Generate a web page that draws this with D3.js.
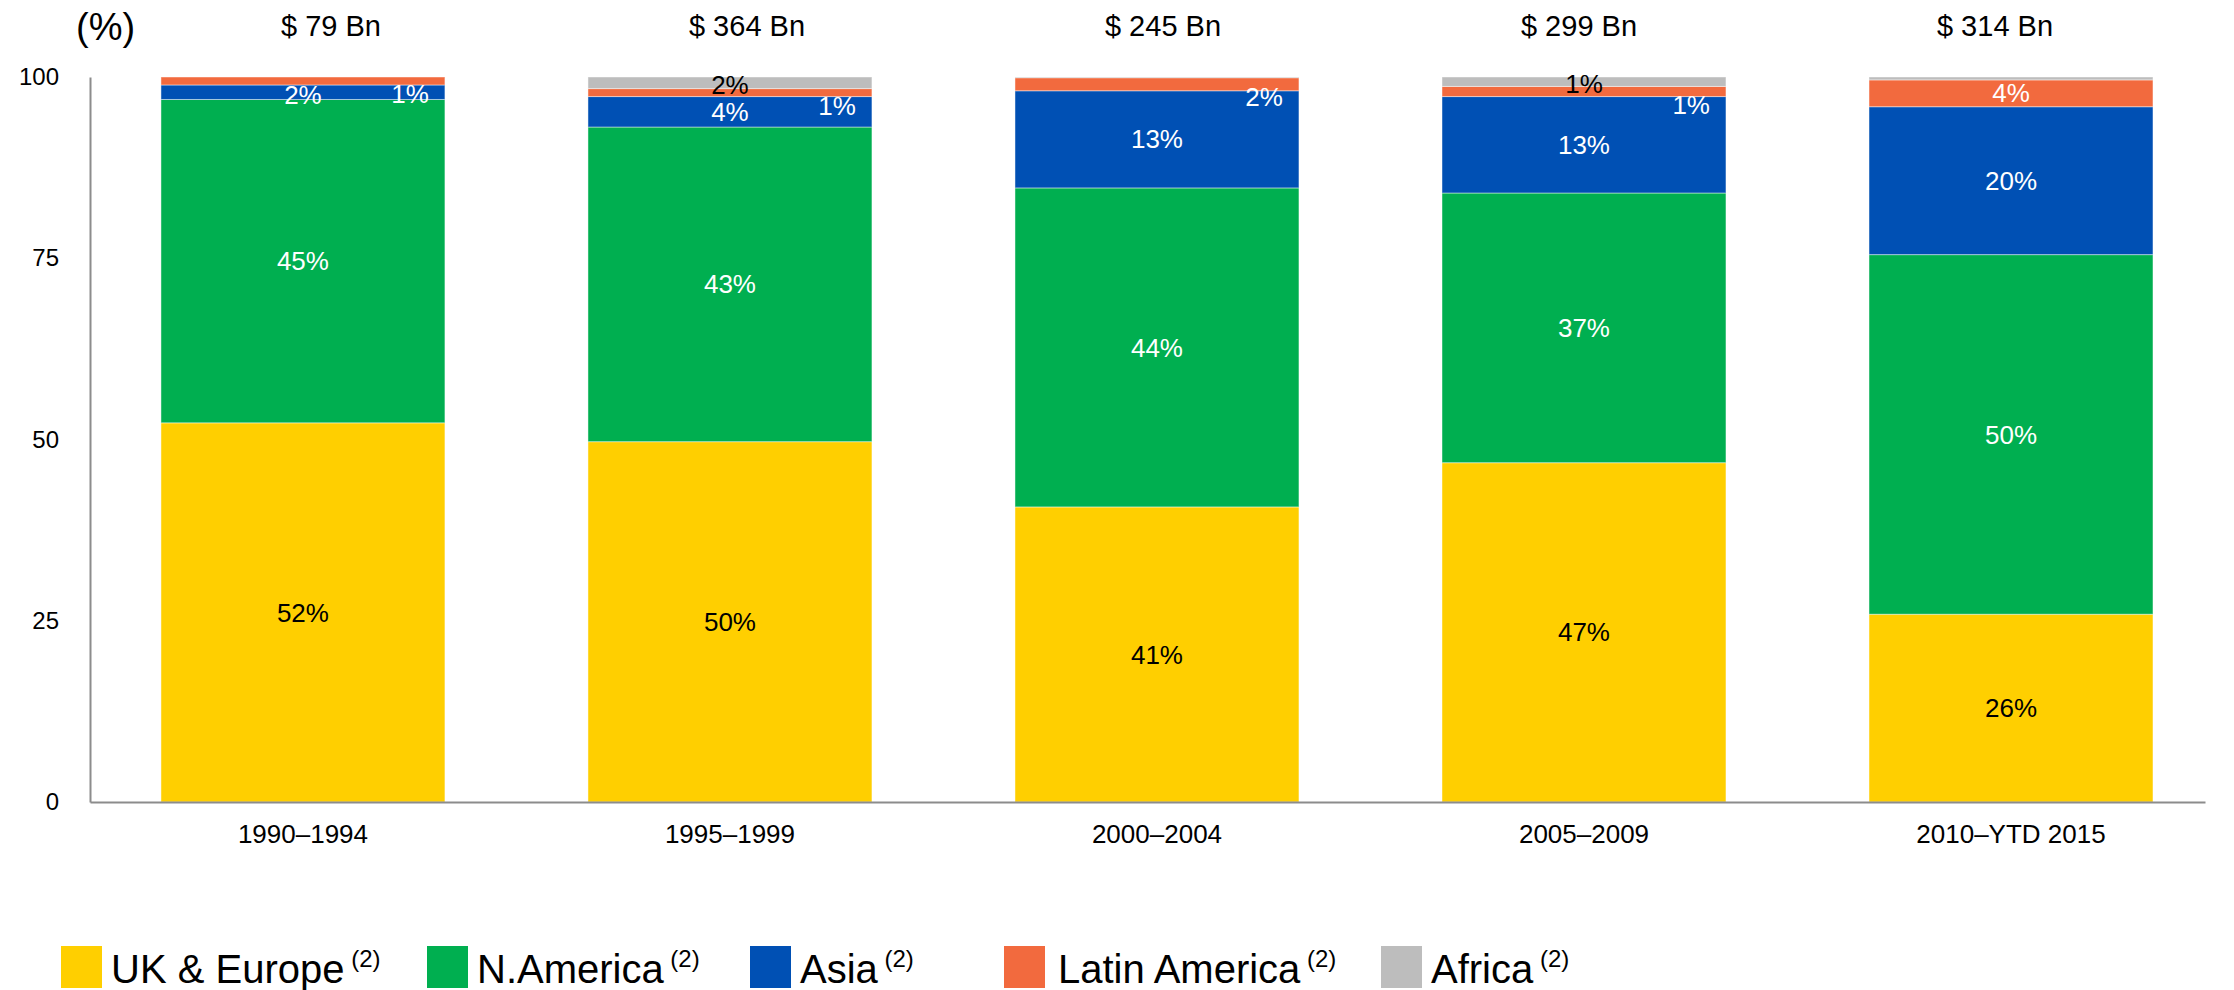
<!DOCTYPE html>
<html>
<head>
<meta charset="utf-8">
<script src="https://cdn.jsdelivr.net/npm/d3@7"></script>
<style>
  body { margin: 0; background: #fff; }
  svg { display: block; font-family: "Liberation Sans", Arial, sans-serif; }
</style>
</head>
<body>
<div id="chart"></div>
<script>
// data (share of deal value, %)
const periods = ["1990–1994", "1995–1999", "2000–2004", "2005–2009", "2010–YTD 2015"];
const totalsBn = [79, 364, 245, 299, 314];
const ukEurope = [52.3, 49.7, 40.7, 46.8, 25.9];
const nAmerica = [44.6, 43.4, 44.0, 37.2, 49.6];
const asia = [2.0, 4.2, 13.4, 13.3, 20.4];
const latinAmerica = [1.1, 1.1, 1.8, 1.4, 3.7];
const africa = [0, 1.6, 0.1, 1.3, 0.4];
const yTicks = [0, 25, 50, 75, 100];

const seriesNames = ["UK & Europe", "N.America", "Asia", "Latin America", "Africa"];
const seriesKeys = ["uk", "na", "asia", "latam", "africa"];
const colors = ["#FFCF00", "#00AF50", "#0050B4", "#F26A3E", "#BDBDBD"];
const labelColors = ["#000", "#fff", "#fff", "#fff", "#000"];

// build table for d3.stack
var table = periods.map(function(p, i) {
	return { period: p, uk: ukEurope[i], na: nAmerica[i], asia: asia[i], latam: latinAmerica[i], africa: africa[i] };
});

var width = 2234, height = 990;
var svg = d3.select("#chart").append("svg")
	.attr("width", width)
	.attr("height", height);

var x = d3.scaleBand()
	.domain(periods)
	.range([90, 2205])
	.paddingInner(0.335)
	.paddingOuter(0.144)
	.align(0.577);

var y = d3.scaleLinear().domain([0, 100]).range([802, 77]);

// totals sit in their own evenly spaced text row above the bars
var topX = d3.scalePoint().domain(periods).range([331, 1995]);

var stack = d3.stack().keys(seriesKeys);
var layers = stack(table);

var layer = svg.selectAll(".layer")
	.data(layers)
	.enter().append("g")
	.attr("class", "layer")
	.attr("fill", function(d, i) { return colors[i]; });

layer.selectAll("rect")
	.data(function(d) { return d; })
	.enter().append("rect")
	.attr("x", function(d) { return x(d.data.period); })
	.attr("y", function(d) { return y(d[1]); })
	.attr("width", x.bandwidth())
	.attr("height", function(d) { return y(d[0]) - y(d[1]); })
	.attr("stroke", "#fff")
	.attr("stroke-opacity", 0.45)
	.attr("stroke-width", 1);

// segment labels
layers.forEach(function(lay, si) {
	lay.forEach(function(d) {
		var v = d[1] - d[0];
		var r = Math.round(v);
		if (r < 1) return;
		var cy = (y(d[0]) + y(d[1])) / 2;
		var cx = x(d.data.period) + x.bandwidth() / 2;
		var anchor = "middle";
		if (seriesKeys[si] == "latam" && v < 3) {
			cx = x(d.data.period) + x.bandwidth() - 16;
			anchor = "end";
			cy = cy + 13;
		}
		if (seriesKeys[si] == "africa") cy = cy + 2;
		if (seriesKeys[si] == "asia" && v < 3) cy = cy + 3;
		svg.append("text")
			.attr("x", cx)
			.attr("y", cy)
			.attr("dy", "0.35em")
			.attr("text-anchor", anchor)
			.attr("font-size", "26px")
			.attr("fill", labelColors[si])
			.text(r + "%");
	});
});

// y axis
var yAxis = svg.append("g")
	.attr("transform", "translate(90,0)")
	.call(d3.axisLeft(y).tickValues(yTicks).tickSize(0).tickSizeOuter(0).tickPadding(31));
yAxis.select(".domain").attr("stroke", "#8c8c8c").attr("stroke-width", 2);
yAxis.selectAll("text").attr("font-size", "24px").attr("fill", "#000").attr("font-family", null);

// x axis
var xAxis = svg.append("g")
	.attr("transform", "translate(0," + y(0) + ")")
	.call(d3.axisBottom(x).tickSize(0).tickSizeOuter(0).tickPadding(23));
xAxis.select(".domain").attr("stroke", "#8c8c8c").attr("stroke-width", 2);
xAxis.selectAll("text").attr("font-size", "26px").attr("fill", "#000").attr("font-family", null);

// unit label
svg.append("text")
	.attr("x", 76)
	.attr("y", 40)
	.attr("font-size", "38px")
	.text("(%)");

// totals row
svg.selectAll(".total")
	.data(periods)
	.enter().append("text")
	.attr("class", "total")
	.attr("x", function(d) { return topX(d); })
	.attr("y", 36)
	.attr("text-anchor", "middle")
	.attr("font-size", "29px")
	.text(function(d, i) { return "$ " + totalsBn[i] + " Bn"; });

// legend
var legendX = [61, 427, 750, 1004, 1381];
var leg = svg.selectAll(".legend")
	.data(seriesNames)
	.enter().append("g")
	.attr("class", "legend")
	.attr("transform", function(d, i) { return "translate(" + legendX[i] + ",946)"; });

leg.append("rect")
	.attr("width", 41)
	.attr("height", 42)
	.attr("fill", function(d, i) { return colors[i]; });

var lt = leg.append("text")
	.attr("x", function(d, i) { return i == 3 ? 54 : 50; })
	.attr("y", 37)
	.attr("font-size", "40px")
	.text(function(d) { return d; });
lt.append("tspan")
	.attr("font-size", "24px")
	.attr("dy", -16)
	.text(" (2)");
</script>
</body>
</html>
